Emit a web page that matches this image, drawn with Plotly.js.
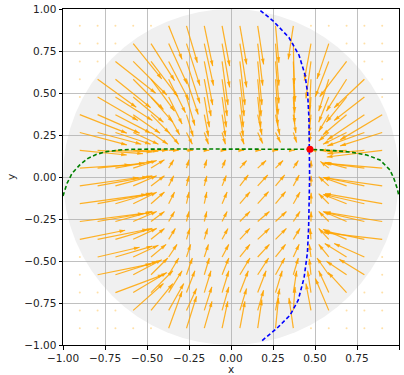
<!DOCTYPE html>
<html><head><meta charset="utf-8">
<script src="https://cdn.plot.ly/plotly-3.0.1.min.js"></script>
<style>html,body{margin:0;padding:0;background:#fff}#chart{width:404px;height:375px}</style>
</head><body><div id="chart"></div>
<script>
// grid of arrow tails
const xs = [-0.9,-0.794,-0.688,-0.582,-0.476,-0.371,-0.265,-0.159,-0.053,0.053,0.159,0.265,0.371,0.476,0.582,0.688,0.794,0.9];
const ys = [0.9,0.794,0.688,0.582,0.476,0.371,0.265,0.159,0.053,-0.053,-0.159,-0.265,-0.371,-0.476,-0.582,-0.688,-0.794,-0.9];
// arrow components (data units), one row per y value; 0,0 = outside the disk
const U = [
 [0,0,0,0,0,0.08,0.065,0.05,0.045,0.04,0.035,0.02,-0.03,0,0,0,0,0],
 [0,0,0,0.17,0.14,0.11,0.08,0.055,0.045,0.04,0.03,0.02,0.005,-0.04,-0.07,0,0,0],
 [0,0,0.24,0.2,0.16,0.12,0.08,0.05,0.035,0.03,0.025,0.02,0.01,-0.03,-0.08,-0.16,0,0],
 [0,0.23,0.21,0.18,0.14,0.1,0.07,0.04,0.03,0.025,0.02,0.015,0.008,-0.01,-0.06,-0.12,-0.18,0],
 [0,0.24,0.22,0.18,0.13,0.08,0.05,0.03,0.025,0.02,0.018,0.014,0.008,-0.01,-0.06,-0.12,-0.18,0],
 [0.28,0.25,0.21,0.16,0.11,0.065,0.04,0.025,0.02,0.02,0.025,0.025,0.015,-0.01,-0.06,-0.14,-0.22,-0.25],
 [0.28,0.26,0.21,0.15,0.1,0.06,0.035,0.025,0.02,0.025,0.03,0.03,0.02,-0.01,-0.06,-0.14,-0.22,-0.25],
 [0.28,0.27,0.22,0.15,0.1,0.06,0.04,0.03,0.025,0.025,0.02,0.015,0.008,-0.002,-0.05,-0.12,-0.22,-0.33],
 [0.3,0.28,0.22,0.14,0.08,0.03,0.015,0.015,0.02,0.04,0.05,0.045,0.03,0.001,-0.05,-0.13,-0.23,-0.35],
 [0.35,0.3,0.22,0.14,0.08,0.03,0.015,0.015,0.025,0.05,0.06,0.055,0.035,0.001,-0.06,-0.14,-0.24,-0.35],
 [0.4,0.32,0.22,0.14,0.08,0.035,0.015,0.015,0.03,0.06,0.065,0.06,0.04,0.001,-0.06,-0.14,-0.24,-0.34],
 [0.38,0.32,0.22,0.14,0.08,0.035,0.015,0.015,0.03,0.06,0.07,0.065,0.04,0.001,-0.06,-0.14,-0.24,-0.34],
 [0.27,0.3,0.22,0.14,0.08,0.04,0.02,0.02,0.035,0.06,0.07,0.065,0.04,-0.005,-0.06,-0.14,-0.24,-0.35],
 [0,0.25,0.22,0.15,0.09,0.05,0.025,0.025,0.04,0.06,0.07,0.06,0.035,-0.01,-0.06,-0.13,-0.18,0],
 [0,0.32,0.25,0.17,0.1,0.06,0.035,0.03,0.04,0.06,0.065,0.055,0.03,-0.01,-0.07,-0.12,-0.15,0],
 [0,0,0.286,0.2,0.13,0.08,0.05,0.04,0.04,0.05,0.05,0.04,0.02,-0.02,-0.06,-0.11,0,0],
 [0,0,0,0.18,0.13,0.09,0.06,0.045,0.04,0.04,0.035,0.025,0.01,-0.03,-0.08,0,0,0],
 [0,0,0,0,0,0.08,0.06,0.046,0.034,0.03,0.025,0.018,-0.026,0,0,0,0,0]
];
const V = [
 [0,0,0,0,0,-0.2,-0.22,-0.24,-0.24,-0.23,-0.23,-0.22,-0.2,0,0,0,0,0],
 [0,0,0,-0.21,-0.22,-0.24,-0.25,-0.25,-0.26,-0.26,-0.25,-0.25,-0.24,-0.22,-0.21,0,0,0],
 [0,0,-0.19,-0.2,-0.21,-0.23,-0.25,-0.26,-0.26,-0.26,-0.26,-0.25,-0.24,-0.22,-0.21,-0.21,0,0],
 [0,-0.167,-0.17,-0.18,-0.19,-0.2,-0.21,-0.22,-0.22,-0.22,-0.22,-0.21,-0.2,-0.19,-0.19,-0.19,-0.17,0],
 [0,-0.14,-0.14,-0.15,-0.15,-0.16,-0.17,-0.18,-0.18,-0.18,-0.18,-0.17,-0.16,-0.16,-0.15,-0.15,-0.14,0],
 [-0.11,-0.11,-0.11,-0.11,-0.11,-0.12,-0.13,-0.13,-0.13,-0.13,-0.12,-0.12,-0.11,-0.11,-0.1,-0.12,-0.15,-0.15],
 [-0.074,-0.07,-0.07,-0.07,-0.07,-0.07,-0.07,-0.07,-0.07,-0.07,-0.065,-0.06,-0.06,-0.06,-0.05,-0.07,-0.08,-0.08],
 [-0.028,-0.02,-0.01,-0.005,0,0,0,0,0,0,0,0,0,0,-0.002,-0.008,-0.02,-0.04],
 [0.02,0.03,0.04,0.045,0.05,0.05,0.05,0.05,0.05,0.045,0.045,0.045,0.045,0.045,0.04,0.035,0.03,0.03],
 [0.05,0.055,0.06,0.06,0.06,0.06,0.06,0.06,0.062,0.065,0.065,0.065,0.065,0.06,0.055,0.05,0.05,0.05],
 [0.056,0.06,0.065,0.068,0.07,0.07,0.07,0.07,0.07,0.07,0.072,0.072,0.07,0.065,0.06,0.055,0.055,0.06],
 [0.048,0.055,0.06,0.06,0.06,0.06,0.06,0.06,0.06,0.06,0.06,0.06,0.06,0.06,0.06,0.06,0.056,0.056],
 [0.054,0.06,0.065,0.065,0.065,0.065,0.065,0.065,0.065,0.065,0.065,0.065,0.065,0.065,0.065,0.06,0.05,0.04],
 [0,0.058,0.065,0.07,0.075,0.075,0.075,0.075,0.075,0.075,0.075,0.075,0.075,0.075,0.075,0.08,0.08,0],
 [0,0.065,0.08,0.09,0.1,0.1,0.1,0.1,0.1,0.1,0.1,0.1,0.1,0.095,0.1,0.08,0.093,0],
 [0,0,0.107,0.12,0.13,0.13,0.13,0.13,0.13,0.13,0.13,0.13,0.13,0.13,0.13,0.12,0,0],
 [0,0,0,0.16,0.16,0.16,0.13,0.14,0.14,0.13,0.12,0.13,0.14,0.16,0.19,0,0,0],
 [0,0,0,0,0,0.22,0.19,0.16,0.16,0.16,0.17,0.18,0.18,0,0,0,0,0]
];
// dashed curves
const greenX = [-1.0,-0.976,-0.946,-0.9,-0.851,-0.8,-0.742,-0.663,-0.583,-0.488,-0.3,0,0.3,0.47,0.609,0.708,0.808,0.887,0.946,0.97,0.99,1.0];
const greenY = [-0.113,-0.038,0.022,0.072,0.111,0.135,0.151,0.161,0.165,0.167,0.167,0.166,0.166,0.165,0.157,0.149,0.131,0.101,0.042,-0.01,-0.07,-0.115];
const blueX = [0.175,0.25,0.345,0.405,0.44,0.456,0.464,0.468,0.468,0.462,0.455,0.435,0.40,0.351,0.272,0.175];
const blueY = [0.99,0.93,0.83,0.725,0.61,0.5,0.35,0.165,0,-0.3,-0.45,-0.6,-0.733,-0.823,-0.902,-0.982];
const fixedX = [0.47], fixedY = [0.165];

const lx=[], ly=[], hx=[], hy=[], ha=[], dX=[], dY=[];
for (let j=0;j<ys.length;j++) for (let i=0;i<xs.length;i++) {
  const u=U[j][i], v=V[j][i];
  if (u===0 && v===0) { dX.push(xs[i]); dY.push(ys[j]); continue; }
  lx.push(xs[i], xs[i]+u, null); ly.push(ys[j], ys[j]+v, null);
  hx.push(xs[i]+u); hy.push(ys[j]+v); ha.push(90 - Math.atan2(v,u)*180/Math.PI);
}
const orange='rgba(255,165,0,0.85)';
const dashPat='4px,2.5px';
const traces = [
 {x:lx,y:ly,mode:'lines',line:{color:orange,width:1.2},hoverinfo:'skip',showlegend:false},
 {x:hx,y:hy,mode:'markers',marker:{symbol:'arrow',angle:ha,size:6,color:orange,line:{width:0}},hoverinfo:'skip',showlegend:false},
 {x:dX,y:dY,mode:'markers',marker:{size:2,color:'rgba(255,165,0,0.35)'},hoverinfo:'skip',showlegend:false},
 {x:greenX,y:greenY,mode:'lines',line:{color:'green',width:1.6,dash:dashPat},showlegend:false},
 {x:blueX,y:blueY,mode:'lines',line:{color:'blue',width:1.6,dash:dashPat},showlegend:false},
 {x:fixedX,y:fixedY,mode:'markers',marker:{color:'red',size:7},showlegend:false}
];
const ax = {range:[-1,1],tick0:-1,dtick:0.25,tickformat:'.2f',showgrid:true,gridcolor:'#b0b0b0',gridwidth:0.8,
  zeroline:false,showline:true,mirror:true,linecolor:'#000',linewidth:1,ticks:'outside',ticklen:3.5,tickcolor:'#000',
  tickfont:{family:'DejaVu Sans',size:10.5,color:'#222'},automargin:false,fixedrange:true};
const layout = {
  width:404,height:375,margin:{l:63,r:5,t:9,b:30},paper_bgcolor:'#fff',plot_bgcolor:'#fff',
  xaxis:Object.assign({},ax,{title:{text:'x',font:{family:'DejaVu Sans',size:10.5,color:'#222'},standoff:4}}),
  yaxis:Object.assign({},ax,{title:{text:'y',font:{family:'DejaVu Sans',size:10.5,color:'#222'},standoff:6}}),
  shapes:[{type:'circle',xref:'x',yref:'y',x0:-1,y0:-1,x1:1,y1:1,fillcolor:'#f0f0f0',line:{width:0},layer:'below'}]
};
Plotly.newPlot('chart',traces,layout,{displayModeBar:false,staticPlot:true});
</script></body></html>
